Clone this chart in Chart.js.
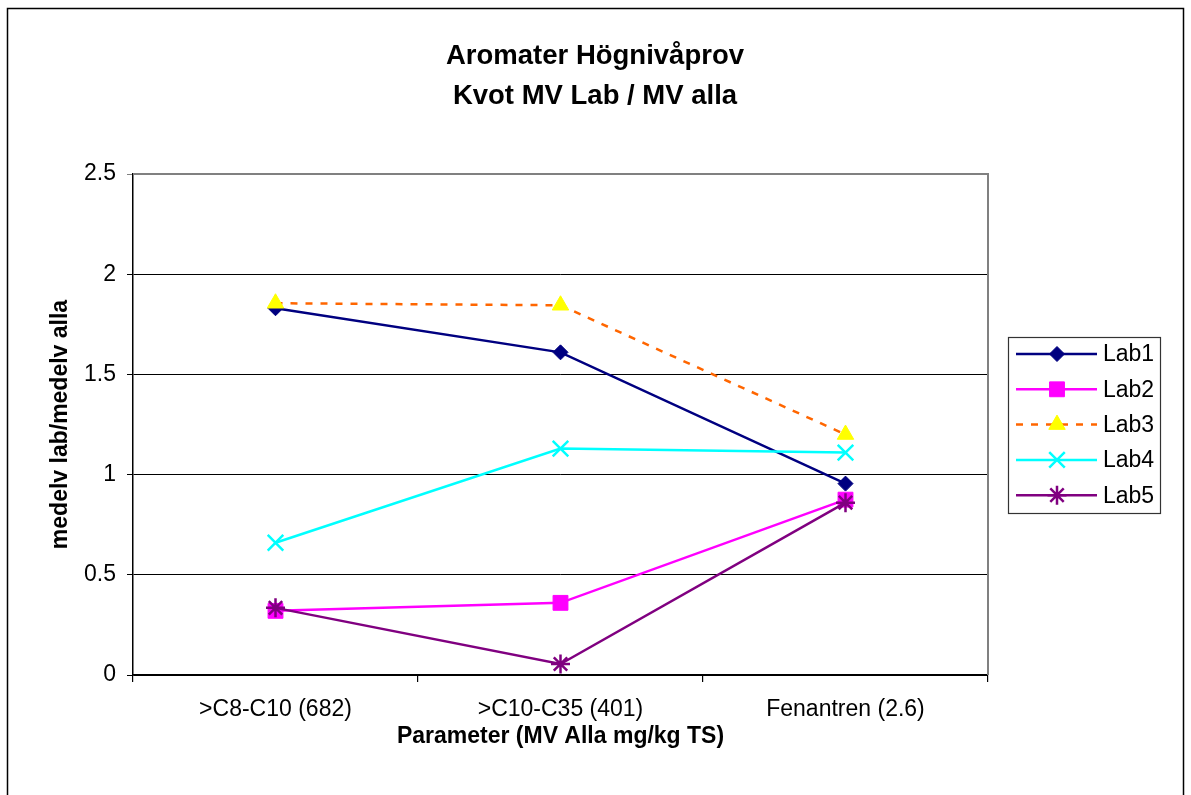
<!DOCTYPE html>
<html>
<head>
<meta charset="utf-8">
<script src="https://cdn.jsdelivr.net/npm/chart.js@4/dist/chart.umd.min.js"></script>
<style>
  html, body { margin: 0; padding: 0; background: #fff; }
  #wrap { width: 1191px; height: 795px; }
</style>
</head>
<body>
<div id="wrap"><canvas id="c" width="1191" height="795"></canvas></div>
<script>
// Aromater Högnivåprov - kvot MV Lab / MV alla

const categories = [">C8-C10 (682)", ">C10-C35 (401)", "Fenantren (2.6)"];
const lab1 = [1.83, 1.61, 0.955];
const lab2 = [0.32, 0.36, 0.875];
const lab3 = [1.855, 1.845, 1.20];
const lab4 = [0.66, 1.13, 1.11];
const lab5 = [0.335, 0.055, 0.86];
const seriesNames = ["Lab1", "Lab2", "Lab3", "Lab4", "Lab5"];
const yTicks = [0, 0.5, 1, 1.5, 2, 2.5];
const titleLines = ["Aromater Högnivåprov", "Kvot MV Lab / MV alla"];

const FONT = "'Liberation Sans', Arial, sans-serif";

// series styles
const STYLE = [
    { line: "#000080", fill: "#000080", point: "rectRot", r: 7.5, bw: 1, dash: [] },
    { line: "#FF00FF", fill: "#FF00FF", point: "rect", r: 10.5, bw: 1, dash: [] },
    { line: "#FF6600", fill: "#FFFF00", edge: "#FFFF00", point: "triangle", r: 9.5, bw: 1, dash: [7, 8] },
    { line: "#00FFFF", fill: "#00FFFF", point: "crossRot", r: 11, bw: 2.5, dash: [] },
    { line: "#800080", fill: "#800080", point: "star", r: 9.5, bw: 2.5, dash: [] }
];

const allData = [lab1, lab2, lab3, lab4, lab5];
const datasets = allData.map(function (vals, i) {
    const s = STYLE[i];
    return {
        label: seriesNames[i],
        data: vals,
        borderColor: s.line,
        borderWidth: 2.5,
        borderDash: s.dash,
        backgroundColor: s.fill,
        pointStyle: s.point,
        pointRadius: s.r,
        pointBackgroundColor: s.fill,
        pointBorderColor: s.edge || s.line,
        pointBorderWidth: s.bw,
        tension: 0,
        order: 4 - i
    };
});

// outer frame, title, plot frame and the boxed legend
const frame = {
    id: "frame",
    beforeDraw: function (chart) {
        const ctx = chart.ctx;
        ctx.save();
        ctx.fillStyle = "#fff";
        ctx.fillRect(0, 0, chart.width, chart.height);
        ctx.strokeStyle = "#000";
        ctx.lineWidth = 1.5;
        ctx.strokeRect(7.5, 8.5, 1176, 820);

        ctx.fillStyle = "#000";
        ctx.font = "bold 27.5px " + FONT;
        ctx.textAlign = "center";
        ctx.textBaseline = "alphabetic";
        ctx.fillText(titleLines[0], 595, 64);
        ctx.fillText(titleLines[1], 595, 104);
        ctx.restore();
    },
    afterDraw: function (chart) {
        const ctx = chart.ctx;
        const a = chart.chartArea;
        ctx.save();
        ctx.strokeStyle = "#808080";
        ctx.lineWidth = 2;
        ctx.beginPath();
        ctx.moveTo(a.left, a.top);
        ctx.lineTo(a.right, a.top);
        ctx.lineTo(a.right, a.bottom);
        ctx.stroke();

        // legend
        ctx.strokeStyle = "#333";
        ctx.lineWidth = 1.2;
        ctx.strokeRect(1008.5, 337.5, 152, 176);
        chart.data.datasets.forEach(function (ds, i) {
            const y = 354 + i * 35.3;
            ctx.save();
            ctx.strokeStyle = ds.borderColor;
            ctx.lineWidth = 2.5;
            ctx.setLineDash(ds.borderDash);
            ctx.beginPath();
            ctx.moveTo(1016, y);
            ctx.lineTo(1097, y);
            ctx.stroke();
            ctx.restore();
            ctx.save();
            ctx.fillStyle = ds.pointBackgroundColor;
            ctx.strokeStyle = ds.pointBorderColor;
            ctx.lineWidth = ds.pointBorderWidth;
            Chart.helpers.drawPoint(ctx, {
                pointStyle: ds.pointStyle, radius: ds.pointRadius, rotation: 0, borderWidth: ds.pointBorderWidth
            }, 1057, y);
            ctx.restore();
            ctx.fillStyle = "#000";
            ctx.font = "23px " + FONT;
            ctx.textBaseline = "middle";
            ctx.textAlign = "left";
            ctx.fillText(ds.label, 1103, y + 1);
        });
        ctx.restore();
    }
};

new Chart(document.getElementById("c"), {
    type: "line",
    data: { labels: categories, datasets: datasets },
    plugins: [frame],
    options: {
        responsive: false,
        animation: false,
        layout: { padding: { top: 174, right: 203, left: 0, bottom: 0 } },
        plugins: {
            legend: { display: false },
            tooltip: { enabled: false },
            title: { display: false }
        },
        scales: {
            x: {
                type: "category",
                offset: true,
                grid: { offset: true, drawOnChartArea: false, drawTicks: true, tickLength: 7, color: "#000", lineWidth: 1.2 },
                border: { color: "#000", width: 1.5 },
                ticks: { color: "#000", font: { family: FONT, size: 23 }, padding: 14, maxRotation: 0 },
                title: {
                    display: true,
                    text: "Parameter (MV Alla mg/kg TS)",
                    color: "#000",
                    font: { family: FONT, size: 23, weight: "bold" },
                    padding: { top: 0, bottom: 45 }
                },
                afterFit: function (s) { s.height = 120; }
            },
            y: {
                min: 0,
                max: 2.5,
                afterBuildTicks: function (s) { s.ticks = yTicks.map(function (v) { return { value: v }; }); },
                grid: {
                    color: function (c) { return c.tick && c.tick.value === 2.5 ? "#808080" : "#000"; },
                    lineWidth: 1,
                    drawTicks: true,
                    tickLength: 6
                },
                border: { color: "#000", width: 1.5 },
                ticks: {
                    color: "#000",
                    font: { family: FONT, size: 23 },
                    padding: 11,
                    callback: function (v) { return String(v); }
                },
                title: {
                    display: true,
                    text: "medelv lab/medelv alla",
                    color: "#000",
                    font: { family: FONT, size: 23, weight: "bold" },
                    padding: { top: 47, bottom: 0 }
                },
                afterFit: function (s) { s.width = 133; }
            }
        }
    }
});
</script>
</body>
</html>
